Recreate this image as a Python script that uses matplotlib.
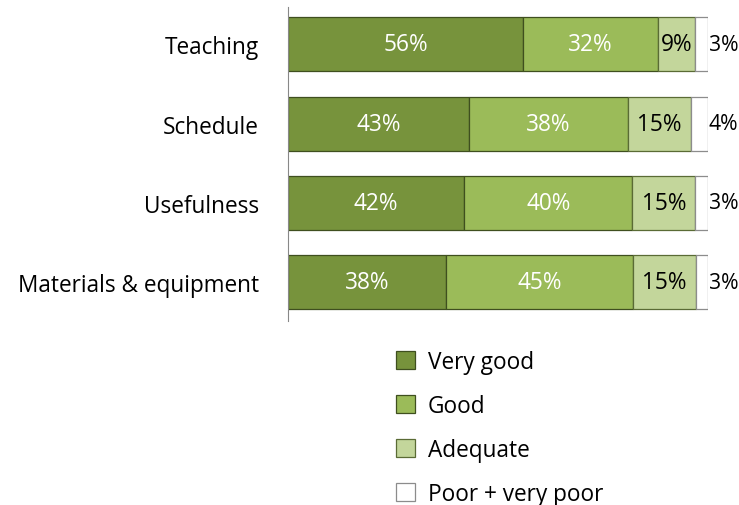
import numpy as np
import matplotlib
matplotlib.use("Agg")
import matplotlib.pyplot as plt

categories = ["Teaching", "Schedule", "Usefulness", "Materials & equipment"]
series = ["Very good", "Good", "Adequate", "Poor + very poor"]
very_good = [56, 43, 42, 38]
good = [32, 38, 40, 45]
adequate = [9, 15, 15, 15]
poor = [3, 4, 3, 3]

colors = ["#77933C", "#9BBB59", "#C3D69B", "#FFFFFF"]
edges = ["#3F4F1F", "#3F4F1F", "#5A6B35", "#8C8C8C"]
text_colors = ["white", "white", "black", None]

plt.rcParams["font.family"] = ["Open Sans", "DejaVu Sans"]
fs = 16.3

data = np.array([very_good, good, adequate, poor], dtype=float)
# 100% stacked: scale each row to its total
shares = data / data.sum(axis=0) * 100

fig = plt.figure(figsize=(7.39, 5.06), dpi=100)
ax = fig.add_axes([288 / 739, 1 - 322 / 506, 420 / 739, 314 / 506])

y = np.arange(len(categories))
left = np.zeros(len(categories))
for i, name in enumerate(series):
    ax.barh(y, shares[i], left=left, height=0.68, color=colors[i],
            edgecolor=edges[i], linewidth=0.9, label=name)
    for j in range(len(categories)):
        label = f"{int(data[i, j])}%"
        if text_colors[i] is None:
            # small segment: label sits just outside the bar end
            ax.text(left[j] + shares[i, j] + 0.2, y[j], label, ha="left",
                    va="center", fontsize=15.2, color="black")
        else:
            ax.text(left[j] + shares[i, j] / 2, y[j], label, ha="center",
                    va="center", fontsize=fs, color=text_colors[i])
    left += shares[i]

ax.set_xlim(0, 100)
ax.set_ylim(3.49, -0.47)
ax.set_yticks(y)
ax.set_yticklabels(categories, fontsize=fs)
ax.set_xticks([])
ax.tick_params(axis="y", length=0, pad=21)
for s in ["top", "right", "bottom"]:
    ax.spines[s].set_visible(False)
ax.spines["left"].set_color("#888888")

fig.legend(loc="upper left", bbox_to_anchor=(396 / 739, 1 - 351 / 506),
           frameon=False, fontsize=fs, handlelength=0.85, handleheight=0.85,
           handletextpad=0.55, labelspacing=0.88, borderpad=0, borderaxespad=0)

fig.savefig("out.png", dpi=100)
